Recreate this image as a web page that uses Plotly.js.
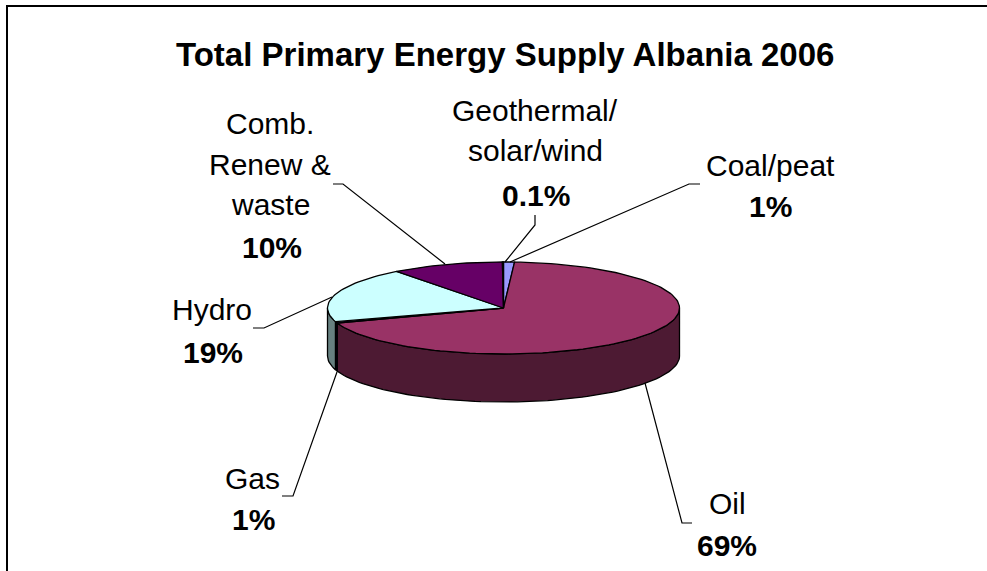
<!DOCTYPE html>
<html><head><meta charset="utf-8">
<script src="https://cdn.plot.ly/plotly-3.0.1.min.js"></script>
<style>html,body{margin:0;padding:0;background:#fff;overflow:hidden}</style></head>
<body><div id="chart" style="width:987px;height:571px"></div>
<script>
// Data, clockwise from 12 o'clock (shares, labels as printed)
const categories = ['Coal/peat','Oil','Gas','Hydro','Comb. Renew & waste','Geothermal/solar/wind'];
const shares     = [1, 68.7, 0.5, 19.4, 10.3, 0.1];
const shareText  = ['1%','69%','1%','19%','10%','0.1%'];
const topColors  = ['#9999FF','#993366','#000033','#CCFFFF','#660066','#9999FF'];
const sideColors = ['#4D4D80','#4D1A33','#00001A','#668080','#330033','#4D4D80'];

// Pie drawing geometry
const cx=503.5, cy=308, rx=176, ry=46, depth=48;
const total = shares.reduce((a,b)=>a+b,0);
const px = a => cx + rx*Math.sin(a*Math.PI/180);
const py = a => cy - ry*Math.cos(a*Math.PI/180);
function arc(a0,a1){const n=Math.max(2,Math.ceil((a1-a0)/2));const o=[];for(let i=0;i<=n;i++)o.push(a0+(a1-a0)*i/n);return o;}

const traces=[]; let start=0; const spans=[];
shares.forEach((v,i)=>{const end=start+v/total*360;spans.push([start,end]);start=end;});
const line={color:'#000',width:1.3};
// side walls (front half only)
spans.forEach(([a0,a1],i)=>{
  const s=Math.max(a0,90), e=Math.min(a1,270);
  if(e<=s) return;
  const as=arc(s,e);
  const xs=as.map(px).concat(as.slice().reverse().map(px)); xs.push(xs[0]);
  const ys=as.map(py).concat(as.slice().reverse().map(a=>py(a)+depth)); ys.push(ys[0]);
  traces.push({type:'scatter',mode:'lines',x:xs,y:ys,fill:'toself',fillcolor:sideColors[i],line,hoverinfo:'skip',showlegend:false});
});
// top faces
spans.forEach(([a0,a1],i)=>{
  const as=arc(a0,a1);
  const xs=[cx].concat(as.map(px),[cx]);
  const ys=[cy].concat(as.map(py),[cy]);
  traces.push({type:'scatter',mode:'lines',x:xs,y:ys,fill:'toself',fillcolor:topColors[i],line,hoverinfo:'skip',showlegend:false,name:categories[i]});
});

// Label text lines: [text, x, y, bold]
const labelLines=[
 ['Comb.',270,123,0],['Renew &',270,164,0],['waste',270,204,0],[shareText[4],272,247,1],
 ['Hydro',212,309,0],[shareText[3],213,352,1],
 ['Geothermal/',535,110,0],['solar/wind',535,150,0],[shareText[5],536,195,1],
 ['Coal/peat',770,165,0],[shareText[0],770,206,1],
 ['Gas',252,478,0],[shareText[2],253,519,1],
 ['Oil',727,503,0],[shareText[1],727,545,1]
];
// Leader polylines
const leaders=[
 'M333,184 L343,184 L445,264',
 'M253,328 L264,328 L332,297',
 'M535,215 L535,225 L505,262',
 'M700,184 L689,184 L510,262',
 'M282,496 L293,496 L337,372',
 'M692,523 L682,523 L645,383'
];
const annotations=labelLines.map(([t,x,y,b])=>({
  text:b?'<b>'+t+'</b>':t,x,y,xref:'x',yref:'y',showarrow:false,xanchor:'center',yanchor:'middle',
  font:{family:'Liberation Sans, Arial, sans-serif',size:30,color:'#000'}
}));
annotations.push({text:'<b>Total Primary Energy Supply Albania 2006</b>',x:504.5,y:54,xref:'x',yref:'y',showarrow:false,
  xanchor:'center',yanchor:'middle',font:{family:'Liberation Sans, Arial, sans-serif',size:33,color:'#000'}});
const shapes=leaders.map(p=>({type:'path',path:p,xref:'x',yref:'y',line:{color:'#000',width:1.2}}));
shapes.push({type:'path',path:'M7,571 L7,6 L987,6',xref:'x',yref:'y',line:{color:'#000',width:2}});

Plotly.newPlot('chart',traces,{
  width:987,height:571,margin:{l:0,r:0,t:0,b:0},paper_bgcolor:'#fff',plot_bgcolor:'#fff',showlegend:false,
  xaxis:{range:[0,987],visible:false,fixedrange:true},
  yaxis:{range:[571,0],visible:false,fixedrange:true},
  annotations,shapes
},{displayModeBar:false,staticPlot:true});
</script></body></html>
